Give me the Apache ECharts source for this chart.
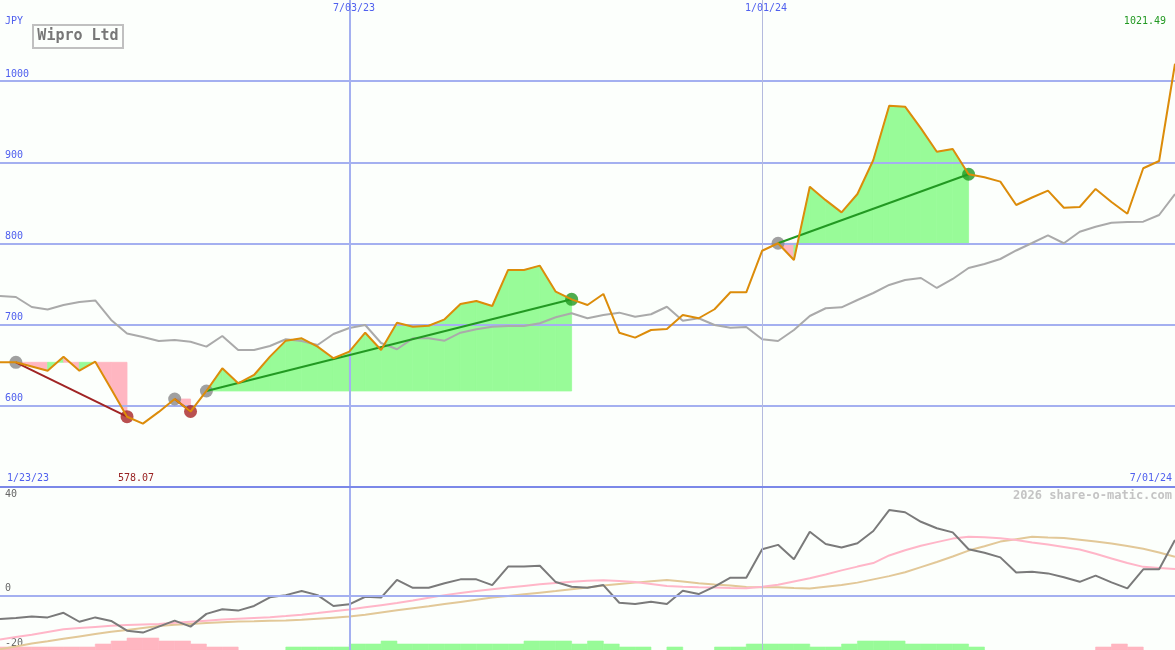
<!DOCTYPE html>
<html><head><meta charset="utf-8">
<script src="https://cdn.jsdelivr.net/npm/echarts@6/dist/echarts.min.js"></script>
<style>html,body{margin:0;padding:0;background:#fcfffc}#c{width:1175px;height:650px}</style>
</head><body><div id="c"></div>
<script>
// ---------- data ----------
const weeks = ['2023-01-30','2023-02-06','2023-02-13','2023-02-20','2023-02-27','2023-03-06','2023-03-13','2023-03-20','2023-03-27','2023-04-03','2023-04-10','2023-04-17','2023-04-24','2023-05-01','2023-05-08','2023-05-15','2023-05-22','2023-05-29','2023-06-05','2023-06-12','2023-06-19','2023-06-26','2023-07-03','2023-07-10','2023-07-17','2023-07-24','2023-07-31','2023-08-07','2023-08-14','2023-08-21','2023-08-28','2023-09-04','2023-09-11','2023-09-18','2023-09-25','2023-10-02','2023-10-09','2023-10-16','2023-10-23','2023-10-30','2023-11-06','2023-11-13','2023-11-20','2023-11-27','2023-12-04','2023-12-11','2023-12-18','2023-12-25','2024-01-01','2024-01-08','2024-01-15','2024-01-22','2024-01-29','2024-02-05','2024-02-12','2024-02-19','2024-02-26','2024-03-04','2024-03-11','2024-03-18','2024-03-25','2024-04-01','2024-04-08','2024-04-15','2024-04-22','2024-04-29','2024-05-06','2024-05-13','2024-05-20','2024-05-27','2024-06-03','2024-06-10','2024-06-17','2024-06-24','2024-07-01'];
const price = [653.6,653.6,648.5,643.3,660.5,643.3,654.4,620.8,586.6,578.07,592.5,608.4,593.0,618.3,646.2,627.7,638.0,660.6,680.3,683.2,672.9,658.6,666.7,690.1,668.8,702.4,697.5,698.7,706.6,725.5,729.2,723.0,767.4,767.4,772.7,740.6,731.2,724.2,737.8,690.1,684.0,693.4,694.7,711.9,707.9,719.0,739.9,739.9,791.1,800.3,779.7,870.0,853.4,838.4,861.0,902.9,969.8,968.6,941.9,913.1,916.4,885.3,881.6,876.2,847.4,856.7,865.1,844.1,845.0,867.2,851.1,836.7,892.7,901.6,1021.49];
const priceMA = [735.3,734.1,721.8,718.7,724.2,727.9,729.8,705.8,689.1,684.8,679.9,681.1,679.0,672.9,686.0,668.8,668.8,673.7,682.0,679.9,675.0,688.5,695.9,699.6,677.4,669.7,683.2,683.2,680.3,690.1,694.3,697.5,698.4,698.4,701.7,709.1,714.0,707.9,711.9,714.8,709.8,712.8,722.1,704.9,707.9,699.6,696.3,697.1,682.0,679.9,693.4,710.7,720.2,721.4,730.4,739.0,748.9,755.0,757.5,745.2,756.3,769.8,774.8,780.9,791.4,800.6,810.1,800.3,814.5,820.7,825.6,826.5,826.9,835.1,861.0];
const oscLine = [-8.6,-8.2,-7.7,-8.0,-6.3,-9.6,-8.0,-9.3,-12.9,-13.6,-11.4,-9.2,-11.4,-6.7,-5.0,-5.5,-3.8,-0.6,0.2,1.7,0.2,-3.8,-3.2,-0.4,-0.7,5.8,2.9,2.9,4.6,6.0,6.0,3.9,10.7,10.7,11.0,5.0,3.3,2.9,3.9,-2.6,-3.1,-2.2,-3.1,1.8,0.6,3.3,6.6,6.6,17.1,18.7,13.4,23.5,19.0,17.7,19.3,23.8,31.5,30.7,27.2,24.8,23.3,17.1,15.8,14.1,8.5,8.8,8.2,6.8,5.1,7.4,4.9,2.7,9.7,9.7,20.5];
const oscFast = [-16.1,-15.2,-14.4,-13.4,-12.4,-11.9,-11.5,-11.1,-10.8,-10.6,-10.4,-10.0,-9.6,-9.2,-8.8,-8.5,-8.2,-7.9,-7.5,-7.0,-6.4,-5.7,-5.1,-4.3,-3.5,-2.7,-1.8,-0.8,0.2,1.0,1.7,2.4,3.0,3.6,4.2,4.7,5.1,5.5,5.7,5.4,5.0,4.3,3.6,3.3,3.1,3.0,2.8,2.7,3.3,4.0,5.2,6.4,7.8,9.3,10.7,12.0,14.8,16.7,18.4,19.7,21.0,21.7,21.5,21.1,20.5,19.6,18.8,17.9,17.0,15.4,13.7,12.0,10.6,10.2,9.8];
const oscSlow = [-19.7,-18.7,-17.6,-16.8,-15.9,-15.0,-14.1,-13.3,-12.6,-11.9,-11.2,-10.7,-10.4,-10.1,-9.8,-9.5,-9.4,-9.2,-9.1,-8.9,-8.5,-8.1,-7.7,-7.0,-6.2,-5.4,-4.6,-3.9,-3.1,-2.3,-1.5,-0.7,-0.1,0.5,1.1,1.7,2.4,3.0,3.7,4.3,4.8,5.3,5.8,5.2,4.6,4.1,3.7,3.2,3.1,3.1,2.8,2.6,3.3,3.9,4.8,6.0,7.2,8.6,10.5,12.4,14.4,16.6,18.2,19.9,20.8,21.7,21.4,21.2,20.6,19.9,19.2,18.3,17.3,15.9,14.3];
const oscHist = [-1,-1,-1,-1,-1,-1,-2,-3,-4,-4,-3,-3,-2,-1,-1,0,0,0,1,1,1,1,2,2,3,2,2,2,2,2,2,2,2,3,3,3,2,3,2,1,1,0,1,0,0,1,1,2,2,2,2,1,1,2,3,3,3,2,2,2,2,1,0,0,0,0,0,0,0,-1,-2,-1,0,0,0];
const trendStart = [1, 11, 13, 49];
const trendEnd = [8, 12, 36, 61];
const markDates = ['2023-07-03', '2024-01-01'];
const startLabel = '1/23/23';
const endLabel = '7/01/24';
const markLabels = ['7/03/23', '1/01/24'];
const title = 'Wipro Ltd';
const currency = 'JPY';
const watermark = '2026 share-o-matic.com';

// ---------- chart ----------
const FONT = 'DejaVu Sans Mono';
const BLUE = '#5060ee';
const GRID = '#a4b0f0';
const GREEN_FILL = '#98fb98';
const PINK_FILL = '#ffb6c1';
const segs = trendStart.map((s, j) => ({ s: s, e: trendEnd[j], up: price[trendEnd[j]] > price[s] }));
const lowVal = Math.min.apply(null, price).toFixed(2);
const lastVal = price[price.length - 1].toFixed(2);

const chart = echarts.init(document.getElementById('c'), null, { renderer: 'canvas' });

const vLines = [
  { xAxis: markDates[0], lineStyle: { color: GRID, width: 2, type: 'solid' } },
  { xAxis: markDates[1], lineStyle: { color: '#b4bade', width: 1, type: 'solid' } }
];

const option = {
  backgroundColor: '#fcfffc',
  animation: false,
  grid: [
    { left: 0, right: 0, top: 0, height: 487, outerBoundsMode: 'none' },
    { left: 0, right: 0, top: 487, height: 163, outerBoundsMode: 'none' }
  ],
  xAxis: [
    { gridIndex: 0, type: 'category', data: weeks, boundaryGap: false, show: false },
    { gridIndex: 1, type: 'category', data: weeks, boundaryGap: false, show: false }
  ],
  yAxis: [
    {
      gridIndex: 0, type: 'value', min: 500, max: 1100, interval: 100,
      axisLine: { show: false }, axisTick: { show: false },
      splitLine: { show: true, showMinLine: false, showMaxLine: false, lineStyle: { color: GRID, width: 2 } },
      axisLabel: { inside: true, margin: 5, align: 'left', verticalAlign: 'bottom', padding: [0, 0, 2, 0],
        color: BLUE, fontFamily: FONT, fontSize: 10, showMinLabel: false, showMaxLabel: false,
        formatter: v => String(v) }
    },
    {
      gridIndex: 1, type: 'value', min: -20, max: 40, interval: 20,
      axisLine: { show: false }, axisTick: { show: false }, splitLine: { show: false },
      axisLabel: { inside: true, margin: 5, align: 'left', verticalAlign: 'bottom', verticalAlignMaxLabel: 'top',
        padding: [2, 0, 2, 0], color: '#666', fontFamily: FONT, fontSize: 10,
        formatter: v => (v === 20 ? '' : String(v)) }
    },
    { gridIndex: 1, type: 'value', min: 0, max: 163 / 3, show: false }
  ],
  series: [
    // trend fills
    {
      type: 'custom', xAxisIndex: 0, yAxisIndex: 0, z: -1, silent: true,
      data: segs.map((g, j) => [j]),
      renderItem: function (params, api) {
        const g = segs[api.value(0)];
        const base = price[g.s];
        const children = [];
        for (let i = g.s; i < g.e; i++) {
          const c = price[i + 1] > base ? GREEN_FILL : PINK_FILL;
          const pts = [api.coord([i, base]), api.coord([i, price[i]]), api.coord([i + 1, price[i + 1]]), api.coord([i + 1, base])];
          children.push({ type: 'polygon', shape: { points: pts },
            style: { fill: c, stroke: c, lineWidth: 0.8 } });
        }
        return { type: 'group', children: children };
      }
    },
    // moving average
    {
      type: 'line', xAxisIndex: 0, yAxisIndex: 0, data: priceMA, symbol: 'none', z: 3, silent: true,
      lineStyle: { color: '#aaaaaa', width: 2 },
      markLine: { silent: true, symbol: 'none', label: { show: false }, data: vLines }
    },
    // trend lines
    ...segs.map(g => ({
      type: 'line', xAxisIndex: 0, yAxisIndex: 0, symbol: 'none', z: 5, silent: true,
      data: [[g.s, price[g.s]], [g.e, price[g.e]]],
      lineStyle: { color: g.up ? '#229922' : '#a02424', width: 2 }
    })),
    // markers
    { type: 'scatter', xAxisIndex: 0, yAxisIndex: 0, z: 4, symbolSize: 13, silent: true,
      data: segs.map(g => [g.s, price[g.s]]), itemStyle: { color: '#888888' } },
    { type: 'scatter', xAxisIndex: 0, yAxisIndex: 0, z: 4, symbolSize: 13, silent: true,
      data: segs.filter(g => !g.up).map(g => [g.e, price[g.e]]), itemStyle: { color: '#a82424' } },
    { type: 'scatter', xAxisIndex: 0, yAxisIndex: 0, z: 4, symbolSize: 13, silent: true,
      data: segs.filter(g => g.up).map(g => [g.e, price[g.e]]), itemStyle: { color: '#229922' } },
    // price
    { type: 'line', xAxisIndex: 0, yAxisIndex: 0, data: price, symbol: 'none', z: 6, silent: true,
      lineStyle: { color: '#dc8c0a', width: 2 } },
    // histogram
    {
      type: 'custom', xAxisIndex: 1, yAxisIndex: 2, z: 1, silent: true,
      data: oscHist.slice(0, -1).map((v, i) => [i, v]),
      encode: { x: 0, y: 1 },
      renderItem: function (params, api) {
        const i = api.value(0), v = api.value(1);
        if (!v) return null;
        const p0 = api.coord([i, 0]);
        const p1 = api.coord([i + 1, Math.abs(v)]);
        const c = v < 0 ? PINK_FILL : GREEN_FILL;
        return { type: 'rect', shape: { x: p0[0], y: p1[1], width: p1[0] - p0[0], height: p0[1] - p1[1] },
          style: { fill: c, stroke: c, lineWidth: 0.6 } };
      }
    },
    { type: 'line', xAxisIndex: 1, yAxisIndex: 1, data: oscSlow, symbol: 'none', z: 3, silent: true,
      lineStyle: { color: '#e2c898', width: 2 },
      markLine: { silent: true, symbol: 'none', label: { show: false }, data: vLines.concat([
        { yAxis: 0, lineStyle: { color: GRID, width: 2, type: 'solid' } },
        { yAxis: 40, lineStyle: { color: '#7b88e8', width: 2, type: 'solid' } }
      ]) } },
    { type: 'line', xAxisIndex: 1, yAxisIndex: 1, data: oscFast, symbol: 'none', z: 3, silent: true,
      lineStyle: { color: '#ffb6c8', width: 2 } },
    { type: 'line', xAxisIndex: 1, yAxisIndex: 1, data: oscLine, symbol: 'none', z: 4, silent: true,
      lineStyle: { color: '#7a7a7a', width: 2 } }
  ],
  graphic: [
    { type: 'text', x: 5, y: 21, z: 100, style: { text: currency, fill: BLUE, font: '10px ' + FONT, textVerticalAlign: 'middle' } },
    { type: 'rect', x: 33, y: 25, z: 100, shape: { width: 90, height: 23 }, style: { fill: '#fcfffc', stroke: '#c0c0c0', lineWidth: 2 } },
    { type: 'text', x: 78, y: 36.5, z: 101, style: { text: title, fill: '#777777', font: 'bold 15px ' + FONT, textAlign: 'center', textVerticalAlign: 'middle' } },
    { type: 'text', x: 1166, y: 21, z: 100, style: { text: lastVal, fill: '#229922', font: '10px ' + FONT, textAlign: 'right', textVerticalAlign: 'middle' } },
    { type: 'text', x: 354, y: 8, z: 100, style: { text: markLabels[0], fill: BLUE, font: '10px ' + FONT, textAlign: 'center', textVerticalAlign: 'middle' } },
    { type: 'text', x: 766, y: 8, z: 100, style: { text: markLabels[1], fill: BLUE, font: '10px ' + FONT, textAlign: 'center', textVerticalAlign: 'middle' } },
    { type: 'text', x: 7, y: 478.5, z: 100, style: { text: startLabel, fill: BLUE, font: '10px ' + FONT, textVerticalAlign: 'middle' } },
    { type: 'text', x: 118, y: 478.5, z: 100, style: { text: lowVal, fill: '#992222', font: '10px ' + FONT, textVerticalAlign: 'middle' } },
    { type: 'text', x: 1172, y: 478.5, z: 100, style: { text: endLabel, fill: BLUE, font: '10px ' + FONT, textAlign: 'right', textVerticalAlign: 'middle' } },
    { type: 'text', x: 1172, y: 496, z: 100, style: { text: watermark, fill: '#c4c4c4', font: 'bold 12px ' + FONT, textAlign: 'right', textVerticalAlign: 'middle' } }
  ]
};
chart.setOption(option);
</script>
</body></html>
